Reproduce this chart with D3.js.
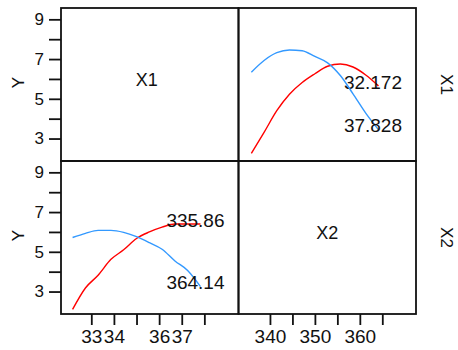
<!DOCTYPE html>
<html>
<head>
<meta charset="utf-8">
<script src="https://cdn.jsdelivr.net/npm/d3@7"></script>
<style>
  body { margin: 0; background: #fff; }
  svg text { font-family: "Liberation Sans", Arial, sans-serif; fill: #111; }
</style>
</head>
<body>
<div id="chart"></div>
<script>
// factor names and the levels used for the slices
const factors = ["X1", "X2"];
const x1Levels = [32.172, 37.828];
const x2Levels = [335.86, 364.14];

// Y vs X1 at X2 = 335.86 (red) and X2 = 364.14 (blue)
const x1Grid = [32.172, 32.74, 33.30, 33.87, 34.43, 35.0, 35.57, 36.13, 36.70, 37.26, 37.828];
const yX1atLow  = [2.10, 3.18, 3.82, 4.62, 5.10, 5.67, 6.00, 6.24, 6.40, 6.40, 6.40];
const yX1atHigh = [5.72, 5.93, 6.08, 6.08, 5.98, 5.76, 5.46, 5.13, 4.54, 4.06, 3.25];

// Y vs X2 at X1 = 32.172 (red) and X1 = 37.828 (blue)
const x2Grid = [335.86, 338.69, 341.52, 344.34, 347.17, 350.0, 352.83, 355.66, 358.48, 361.31, 364.14];
const yX2atLow  = [2.25, 3.31, 4.40, 5.23, 5.82, 6.26, 6.64, 6.75, 6.60, 6.20, 5.65];
const yX2atHigh = [6.34, 6.93, 7.32, 7.46, 7.42, 7.13, 6.81, 6.17, 5.25, 4.28, 3.45];

// ticks
const yTicks = [3, 4, 5, 6, 7, 8, 9];
const yTickLabels = [3, 5, 7, 9];
const x1Ticks = [33, 34, 35, 36, 37, 38];
const x1TickLabels = [33, 34, 36, 37];
const x2Ticks = [340, 345, 350, 355, 360, 365];
const x2TickLabels = [340, 350, 360];

const width = 458, height = 350;
const plotLeft = 61, plotTop = 8, cellW = 177.5, cellH = 153;

const svg = d3.select("#chart").append("svg")
    .attr("width", width)
    .attr("height", height);

// scales: one per column (x) and one per row (y)
const xScales = [
    d3.scaleLinear().domain([31.66, 39.51]).range([plotLeft, plotLeft + cellW]),
    d3.scaleLinear().domain([333.0, 372.5]).range([plotLeft + cellW, plotLeft + 2 * cellW])
];
const yScales = [0, 1].map(r =>
    d3.scaleLinear().domain([1.87, 9.57]).range([plotTop + (r + 1) * cellH, plotTop + r * cellH]));

// curves in the off-diagonal cells
const panels = [
    { row: 0, col: 1, xs: x2Grid, series: [yX2atLow, yX2atHigh], labels: x1Levels },
    { row: 1, col: 0, xs: x1Grid, series: [yX1atLow, yX1atHigh], labels: x2Levels }
];
const colors = ["#ff0000", "#3399ff"];

panels.forEach(p => {
    const x = xScales[p.col], y = yScales[p.row];
    const line = d3.line().x(d => x(d[0])).y(d => y(d[1])).curve(d3.curveMonotoneX);
    p.series.forEach((vals, i) => {
        const pts = p.xs.map((v, j) => [v, vals[j]]);
        svg.append("path")
            .attr("d", line(pts))
            .attr("fill", "none")
            .attr("stroke", colors[i])
            .attr("stroke-width", 1.4);
        // level label right-aligned near the curve end
        svg.append("text")
            .attr("x", x.range()[1] - 14)
            .attr("y", y(vals[vals.length - 1]) - 4)
            .attr("dy", "0.35em")
            .attr("text-anchor", "end")
            .style("font-size", "19px")
            .text(p.labels[i]);
    });
});

// cell frames
for (let r = 0; r < 2; r++) {
    for (let c = 0; c < 2; c++) {
        svg.append("rect")
            .attr("x", plotLeft + c * cellW)
            .attr("y", plotTop + r * cellH)
            .attr("width", cellW)
            .attr("height", cellH)
            .attr("fill", "none")
            .attr("stroke", "#111")
            .attr("stroke-width", 1.8);
    }
}

// diagonal names
factors.forEach((f, i) => {
    svg.append("text")
        .attr("x", plotLeft + i * cellW + cellW / 2 - (i === 0 ? 3 : 0))
        .attr("y", plotTop + i * cellH + cellH / 2 - 5)
        .attr("dy", "0.35em")
        .attr("text-anchor", "middle")
        .style("font-size", "18px")
        .text(f);
    // strip names on the right
    svg.append("text")
        .attr("transform", `translate(${plotLeft + 2 * cellW + 31},${plotTop + i * cellH + cellH / 2}) rotate(90)`)
        .attr("dy", "0.35em")
        .attr("text-anchor", "middle")
        .style("font-size", "17px")
        .text(f);
});

// y axes on the left column
yScales.forEach((y, r) => {
    const g = svg.append("g")
        .attr("transform", `translate(${plotLeft},0)`)
        .call(d3.axisLeft(y).tickValues(yTicks).tickSize(12).tickPadding(5)
            .tickFormat(d => yTickLabels.includes(d) ? d : ""));
    g.select(".domain").remove();
    g.selectAll(".tick line").attr("stroke", "#111").attr("stroke-width", 1.8);
    g.selectAll(".tick text").style("font-size", "17px").attr("fill", "#111");
    svg.append("text")
        .attr("transform", `translate(18,${plotTop + r * cellH + cellH / 2 - 2}) rotate(-90)`)
        .attr("dy", "0.35em")
        .attr("text-anchor", "middle")
        .style("font-size", "17px")
        .text("Y");
});

// x axes on the bottom row
[[x1Ticks, x1TickLabels], [x2Ticks, x2TickLabels]].forEach(([ticks, labs], c) => {
    const g = svg.append("g")
        .attr("transform", `translate(0,${plotTop + 2 * cellH})`)
        .call(d3.axisBottom(xScales[c]).tickValues(ticks).tickSize(11).tickPadding(5)
            .tickFormat(d => labs.includes(d) ? d : ""));
    g.select(".domain").remove();
    g.selectAll(".tick line").attr("stroke", "#111").attr("stroke-width", 1.8);
    g.selectAll(".tick text").style("font-size", "19px").attr("fill", "#111");
});
</script>
</body>
</html>
